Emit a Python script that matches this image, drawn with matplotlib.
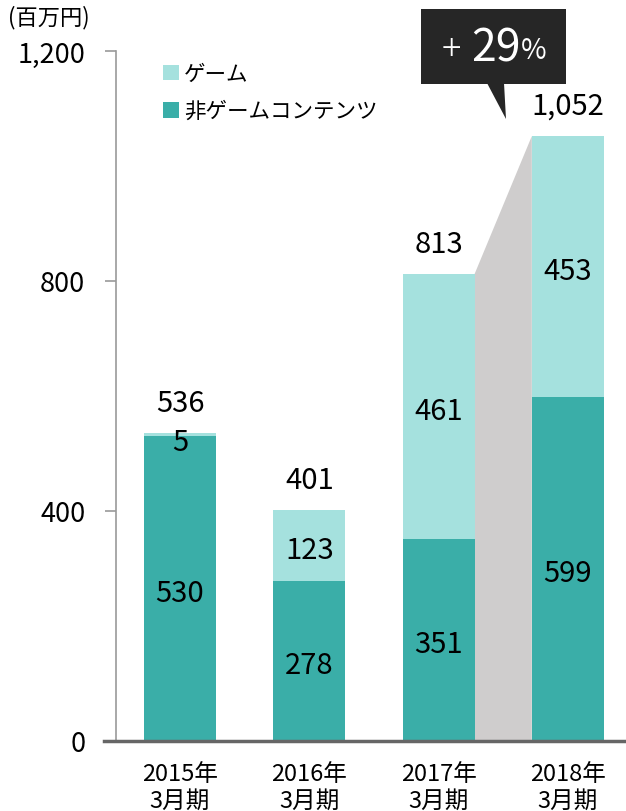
import matplotlib
matplotlib.use("Agg")
import matplotlib.pyplot as plt
from matplotlib.patches import Polygon, Rectangle

plt.rcParams['font.family'] = ['Noto Sans CJK JP', 'DejaVu Sans']

# データ
categories = ["2015年\n3月期", "2016年\n3月期", "2017年\n3月期", "2018年\n3月期"]
non_game = [530, 278, 351, 599]
game = [5, 123, 461, 453]
total_labels = ["536", "401", "813", "1,052"]
totals = [n + g for n, g in zip(non_game, game)]
growth_label = "29"

c_non = "#3aaea8"
c_game = "#a5e1de"
c_gap = "#cfcdcd"

fig = plt.figure(figsize=(6.26, 8.12), dpi=100)
ax = fig.add_axes([116 / 626, 70 / 812, 510 / 626, 690 / 812])

x = list(range(len(categories)))
w = 0.557

# 2017→2018 の伸びを示す灰色の台形
x0 = x[2] + w / 2
x1 = x[3] - w / 2
ax.add_patch(Polygon([(x0, 0), (x0, totals[2]), (x1, totals[3]), (x1, 0)],
                     closed=True, facecolor=c_gap, edgecolor="none", zorder=1))

ax.bar(x, non_game, width=w, color=c_non, label="非ゲームコンテンツ", zorder=2)
ax.bar(x, game, width=w, bottom=non_game, color=c_game, label="ゲーム", zorder=2)

# セグメント内の数値
fs = 21
for i in x:
    if game[i] >= 50:
        ax.annotate(str(game[i]), (i, non_game[i] + game[i] / 2), xytext=(0, -3),
                    textcoords="offset points", ha="center", va="center", fontsize=fs, zorder=3)
    else:
        ax.annotate(str(game[i]), (i, totals[i]), xytext=(0, -6), textcoords="offset points",
                    ha="center", va="center", fontsize=fs, zorder=3)
    ax.annotate(str(non_game[i]), (i, non_game[i] / 2), xytext=(0, -3),
                textcoords="offset points", ha="center", va="center", fontsize=fs, zorder=3)
    ax.annotate(total_labels[i], (i, totals[i]), xytext=(0, 22), textcoords="offset points",
                ha="center", va="center", fontsize=fs, zorder=3)

ax.set_xlim(-0.495, 3.45)
ax.set_ylim(0, 1200)
ax.set_yticks([0, 400, 800, 1200])
ax.set_yticklabels(["0", "400", "800", "1,200"])
ax.set_xticks(x)
ax.set_xticklabels(categories, linespacing=1.2)
ax.tick_params(axis="x", length=0, pad=15, labelsize=17)
ax.tick_params(axis="y", length=8, width=1.2, color="#999999", pad=14, labelsize=19.5)

for s in ["top", "right"]:
    ax.spines[s].set_visible(False)
ax.spines["left"].set_color("#999999")
ax.spines["left"].set_linewidth(1.2)
ax.spines["bottom"].set_color("#666666")
ax.spines["bottom"].set_linewidth(2.5)
ax.spines["bottom"].set_bounds(-0.59, 3.45)

# 単位
fig.text(8 / 626, 1 - 18 / 812, "(百万円)", fontsize=16, va="center", ha="left")

# 凡例
handles, labels = ax.get_legend_handles_labels()
ax.legend(handles[::-1], labels[::-1], loc="upper left", bbox_to_anchor=(0.075, 0.995),
          frameon=False, fontsize=15.5, handlelength=0.75, handleheight=0.75,
          handletextpad=0.25, labelspacing=0.7, borderaxespad=0)

# +29% の吹き出し
fig.patches.append(Rectangle((421 / 626, 1 - 85 / 812), 145 / 626, 75 / 812,
                             transform=fig.transFigure, facecolor="#262626",
                             edgecolor="none", zorder=5))
fig.patches.append(Polygon([(487 / 626, 1 - 84 / 812), (504 / 626, 1 - 84 / 812),
                            (506 / 626, 1 - 120 / 812)], closed=True,
                           transform=fig.transFigure, facecolor="#262626",
                           edgecolor="none", zorder=5))
fig.text(451 / 626, 1 - 50 / 812, "+", color="white", fontsize=26, ha="center",
         va="center", zorder=6, fontweight="light")
fig.text(471 / 626, 1 - 48 / 812, growth_label, color="white", fontsize=32, ha="left",
         va="center", zorder=6)
fig.text(521 / 626, 1 - 51 / 812, "%", color="white", fontsize=20, ha="left",
         va="center", zorder=6)

fig.savefig("out.png", dpi=100)
